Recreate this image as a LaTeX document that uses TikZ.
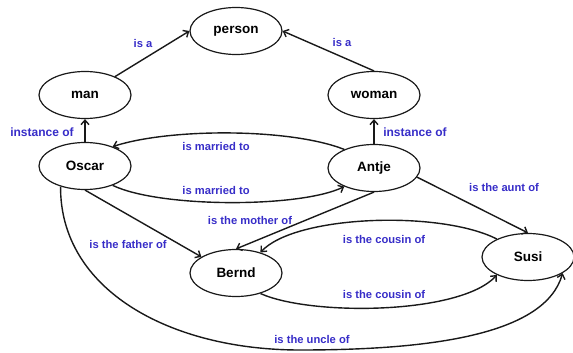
\documentclass[tikz,border=0pt]{standalone}
\usepackage{fontspec}
\setmainfont{Liberation Sans}
\usetikzlibrary{shapes.geometric,arrows.meta}
\definecolor{lblue}{RGB}{55,45,200}
\definecolor{ink}{RGB}{25,25,25}
\begin{document}
\begin{tikzpicture}[x=1pt,y=-1pt,
  ent/.style={ellipse,draw=ink,line width=1.2pt,minimum width=92pt,minimum height=47pt,inner sep=0pt,font=\fontsize{13.5}{15}\selectfont\bfseries},
  rel/.style={draw=ink,line width=1.4pt,-{Straight Barb[length=4.5pt,width=8pt]}},
  lbl/.style={text=lblue,font=\fontsize{11.2}{13}\selectfont\bfseries,inner sep=0pt},
  lblbig/.style={text=lblue,font=\fontsize{12}{14}\selectfont\bfseries,inner sep=0pt}]
\useasboundingbox (0,0) rectangle (573,353);
\node[ent] (person) at (236,31) {person};
\node[ent] (man) at (85,95) {man};
\node[ent] (woman) at (374,95) {woman};
\node[ent] (oscar) at (85,166) {Oscar};
\node[ent] (antje) at (374,168) {Antje};
\node[ent] (bernd) at (236,273) {Bernd};
\node[ent] (susi) at (528,257) {Susi};

\draw[rel] (man) -- (person.west);
\draw[rel] (woman.north) -- (person.east);
\draw[rel] (oscar.north) -- (man.south);
\draw[rel] (antje.north) -- (woman.south);
\draw[rel] (antje.148) .. controls (290,128) and (170,128) .. (oscar.35);
\draw[rel] (oscar.-35) .. controls (160,208) and (300,208) .. (antje.-148);
\draw[rel] (oscar.south) -- (bernd.155);
\draw[rel] (antje.south) -- (bernd.north);
\draw[rel] (antje.-12) -- (susi.north);
\draw[rel] (susi.150) .. controls (440,210) and (295,215) .. (bernd.40);
\draw[rel] (bernd.-40) .. controls (310,316) and (460,315) .. (susi.-150);
\coordinate (low) at (300,350);
\draw[rel] (oscar.-140) .. controls (60,290) and (170,350) .. (low)
  .. controls (430,350) and (545,335) .. (susi.-25);

\node[lbl] (l1) at (143,43) {is a};
\node[lbl] (l2) at (342,42) {is a};
\node[lblbig] (l3) at (42,132) {instance of};
\node[lblbig] (l4) at (415,132) {instance of};
\node[lbl] (l5) at (216,146) {is married to};
\node[lbl] (l6) at (216,190) {is married to};
\node[lbl] (l7) at (250,220) {is the mother of};
\node[lbl] (l8) at (128,244) {is the father of};
\node[lbl] (l9) at (504,187) {is the aunt of};
\node[lbl] (l10) at (384,239) {is the cousin of};
\node[lbl] (l11) at (384,294) {is the cousin of};
\node[lbl] (l12) at (312,339) {is the uncle of};
\end{tikzpicture}
\end{document}
